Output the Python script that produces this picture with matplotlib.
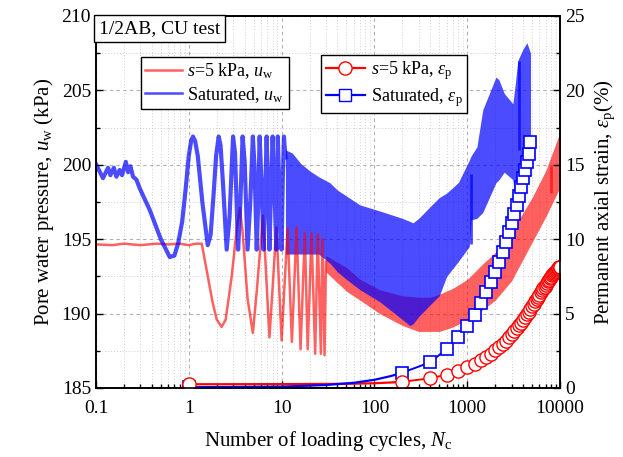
import matplotlib
matplotlib.use('Agg')
import matplotlib.pyplot as plt
from matplotlib.ticker import LogLocator, MultipleLocator, NullFormatter, FixedLocator, FixedFormatter
from matplotlib.lines import Line2D

plt.rcParams['font.family'] = ['Liberation Serif', 'DejaVu Serif']
plt.rcParams['mathtext.fontset'] = 'custom'
plt.rcParams['mathtext.rm'] = 'Liberation Serif'
plt.rcParams['mathtext.it'] = 'Liberation Serif:italic'

# ---- pore water pressure, unsaturated (s=5 kPa), discrete cycles
n_red = [0.1, 0.15, 0.2, 0.3, 0.45, 0.6, 0.8, 1.0, 1.2, 1.38, 1.55, 1.8, 2.0, 2.26, 2.5,
         2.9, 3.3, 3.55, 3.8, 4.3, 4.9, 5.4, 6.3, 7.4, 8.8, 10, 11.6, 12.9, 14.5, 16,
         17.8, 19.1, 21, 23, 24.5, 26.5, 27.5, 29, 30]
u_red = [194.65, 194.6, 194.7, 194.6, 194.7, 194.65, 194.7, 194.6, 194.7, 194.7, 193.0, 190.8,
         189.6, 189.1, 189.6, 192.5, 195.8, 197.1, 195.5, 191.0, 188.7, 191.5, 196.6, 188.4,
         195.8, 188.2, 195.7, 188.1, 195.8, 187.6, 195.4, 187.6, 195.4, 187.3, 195.3, 187.3,
         195.0, 187.2, 193.5]
# band (dense cycles) envelope
n_red_band = [30, 50, 70, 114, 200, 300, 400, 500, 700, 1000, 1500, 2000, 3000, 5000, 7000, 10000]
u_red_hi = [193.9, 193.1, 192.3, 191.6, 191.2, 191.1, 191.1, 191.3, 191.7, 192.3, 193.4, 194.1,
            195.5, 197.8, 199.6, 202.2]
u_red_lo = [192.8, 191.5, 190.9, 190.0, 189.2, 188.8, 188.8, 188.8, 189.1, 189.6, 190.3, 190.9,
            192.2, 194.8, 196.5, 198.5]

# ---- pore water pressure, saturated, discrete cycles
n_blue = [0.101, 0.119, 0.135, 0.143, 0.156, 0.166, 0.18, 0.191, 0.21, 0.222, 0.235, 0.251,
          0.273, 0.297, 0.38, 0.5, 0.624, 0.7, 0.767, 0.85, 0.93, 1.0, 1.06, 1.11, 1.17, 1.25,
          1.4, 1.6, 1.72, 1.85, 1.97, 2.1, 2.2, 2.35, 2.56, 2.75, 3.0, 3.15, 3.4, 3.6, 3.8,
          4.0, 4.3, 4.6, 4.9, 5.1, 5.4, 5.6, 5.8, 6.1, 6.4, 6.65, 6.9, 7.1, 7.4, 7.7, 8.0,
          8.4, 8.8, 9.0, 9.1, 9.5, 10, 10.3, 10.6, 11]
u_blue = [200.0, 199.1, 199.8, 199.3, 199.8, 199.2, 199.65, 199.3, 200.2, 199.5, 199.9, 199.2,
          199.0, 198.4, 196.96, 195.0, 193.8, 193.9, 194.7, 196.2, 198.5, 200.6, 201.6, 201.9,
          201.6, 200.6, 197.5, 194.6, 195.3, 198.0, 200.6, 201.9, 201.3, 198.5, 194.3, 196.5,
          201.9, 200.8, 194.3, 197.5, 201.9, 200.2, 194.3, 197.5, 201.9, 200.0, 194.3, 197.5,
          201.9, 198.5, 194.3, 198.0, 201.9, 199.0, 194.3, 198.5, 201.9, 198.0, 194.3, 199.0,
          201.9, 198.0, 194.3, 199.0, 201.9, 200.5]
n_blue_band = [11, 13, 16, 20, 25, 33, 40, 50, 70, 114, 200, 240, 260, 300, 400, 500, 600, 800,
               1050, 1100, 1270, 1470, 2040, 2200, 2500, 3100, 3300, 3500, 4000, 4400, 4800]
u_blue_hi = [201.0, 200.8, 200.1, 199.6, 199.2, 198.8, 198.3, 197.9, 197.3, 196.9, 196.4, 196.2,
             196.1, 196.4, 197.2, 197.8, 198.1, 198.8, 200.3, 200.6, 201.2, 203.7, 205.9, 205.7,
             204.8, 204.1, 205.5, 207.0, 207.8, 208.2, 207.5]
u_blue_lo = [194.0, 194.0, 194.0, 194.0, 194.0, 193.4, 192.8, 192.3, 191.6, 190.8, 189.6, 189.2,
             189.3, 189.8, 190.6, 191.2, 192.5, 193.5, 194.5, 196.3, 196.4, 196.8, 198.8, 199.0,
             199.5, 199.0, 197.5, 199.0, 200.5, 201.0, 201.5]
# darker streaks inside the bands
streak_blue_n = [1100, 3600]
streak_blue_lo = [194.7, 201.0]
streak_blue_hi = [199.4, 207.0]
streak_red_n = [2600, 8000]
streak_red_lo = [193.8, 198.1]
streak_red_hi = [195.8, 199.9]

# ---- permanent axial strain
n_eps_red = [1, 200, 400, 600, 800, 1000, 1200, 1400, 1600, 1800, 2000, 2200, 2400, 2600, 2800,
             3000, 3200, 3400, 3600, 3800, 4000, 4200, 4400, 4600, 4800, 5000, 5200, 5400, 5600,
             5800, 6000, 6200, 6400, 6600, 6800, 7000, 7200, 7400, 7600, 7800, 8000, 8200, 8400,
             8600, 8800, 9000, 9200, 9400, 9600, 9800, 10000]
eps_red = [0.25, 0.42, 0.65, 0.9, 1.15, 1.4, 1.62, 1.85, 2.07, 2.3, 2.52, 2.74, 2.96, 3.18, 3.4,
           3.6, 3.8, 4.0, 4.2, 4.4, 4.6, 4.78, 4.96, 5.14, 5.32, 5.5, 5.66, 5.82, 5.98, 6.13, 6.28,
           6.42, 6.56, 6.69, 6.82, 6.95, 7.07, 7.18, 7.29, 7.39, 7.49, 7.58, 7.66, 7.74, 7.82, 7.89,
           7.95, 8.01, 8.06, 8.11, 8.15]
n_eps_blue = [1, 200, 400, 600, 800, 1000, 1200, 1400, 1600, 1800, 2000, 2200, 2400, 2600, 2800,
              3000, 3200, 3400, 3600, 3800, 4000, 4200, 4400, 4600, 4800]
eps_blue = [0.05, 1.03, 1.73, 2.62, 3.45, 4.17, 4.9, 5.69, 6.43, 7.15, 7.82, 8.5, 9.15, 9.8, 10.45,
            11.1, 11.7, 12.3, 12.9, 13.5, 14.1, 14.65, 15.2, 15.75, 16.55]
# line between first two markers
n_line_red = [1, 10, 50, 100, 150, 200]
e_line_red = [0.25, 0.26, 0.28, 0.32, 0.37, 0.42]
n_line_blue = [1, 10, 30, 60, 100, 150, 200]
e_line_blue = [0.05, 0.09, 0.2, 0.35, 0.55, 0.8, 1.03]

RED = (1.0, 0.0, 0.0, 0.62)
BLUE = (0.0, 0.0, 1.0, 0.7)

fig = plt.figure(figsize=(6.23, 4.57), dpi=100)
ax = fig.add_axes([0.154, 0.151, 0.745, 0.814])

ax.plot(n_red, u_red, color=RED, lw=1.8)
ax.fill_between(n_red_band, u_red_lo, u_red_hi, color=RED, lw=0)
ax.vlines(streak_red_n, streak_red_lo, streak_red_hi, color=RED, lw=2)
ax.plot(n_blue, u_blue, color=BLUE, lw=3.0)
ax.fill_between(n_blue_band, u_blue_lo, u_blue_hi, color=BLUE, lw=0)
ax.vlines(streak_blue_n, streak_blue_lo, streak_blue_hi, color=BLUE, lw=2)

ax.set_xscale('log')
ax.set_xlim(0.1, 10000)
ax.set_ylim(185, 210)
ax.yaxis.set_major_locator(MultipleLocator(5))
ax.yaxis.set_minor_locator(MultipleLocator(2.5))
ax.xaxis.set_major_locator(FixedLocator([0.1, 1, 10, 100, 1000, 10000]))
ax.xaxis.set_major_formatter(FixedFormatter(['0.1', '1', '10', '100', '1000', '10000']))
ax.xaxis.set_minor_locator(LogLocator(base=10, subs=range(2, 10), numticks=20))
ax.xaxis.set_minor_formatter(NullFormatter())
ax.grid(True, which='major', ls=(0, (3, 3)), color='#b0b0b0', lw=0.8)
ax.grid(True, which='minor', ls=(0, (1, 2)), color='#d0d0d0', lw=0.7)
ax.set_axisbelow(True)
ax.tick_params(which='both', direction='in', labelsize=14, width=1)
ax.tick_params(which='major', length=5)
ax.tick_params(which='minor', length=3)
ax.tick_params(axis='x', which='both', pad=9)
ax.set_xlabel(r'Number of loading cycles, $N_{\rm c}$', fontsize=15, labelpad=8)
ax.set_ylabel(r'Pore water pressure, $u_{\rm w}$ (kPa)', fontsize=15)

ax2 = ax.twinx()
l1, = ax2.plot(n_line_red, e_line_red, color='red', lw=1.6)
l2, = ax2.plot(n_line_blue, e_line_blue, color='blue', lw=1.6)
ax2.plot(n_eps_red[1:], eps_red[1:], color='red', lw=1.4)
ax2.plot(n_eps_blue[1:], eps_blue[1:], color='blue', lw=1.4)
ax2.plot(n_eps_blue, eps_blue, ls='none', marker='s', ms=8.5, mfc='white', mec='blue', mew=1.2)
ax2.plot(n_eps_red, eps_red, ls='none', marker='o', ms=9.5, mfc='white', mec='red', mew=1.0)
ax2.set_ylim(0, 25)
ax2.yaxis.set_major_locator(MultipleLocator(5))
ax2.yaxis.set_minor_locator(MultipleLocator(2.5))
ax2.tick_params(which='both', direction='in', labelsize=14, width=1)
ax2.tick_params(which='major', length=5)
ax2.tick_params(which='minor', length=3)
ax2.set_ylabel(r'Permanent axial strain, $\varepsilon_{\rm p}$(%)', fontsize=15, labelpad=6)

for a in (ax, ax2):
    for s in a.spines.values():
        s.set_linewidth(1.2)

h1 = [Line2D([], [], color=RED, lw=1.8), Line2D([], [], color=BLUE, lw=1.8)]
leg1 = ax2.legend(h1, [r'$s$=5 kPa, $u_{\rm w}$', r'Saturated, $u_{\rm w}$'],
                  loc='upper left', bbox_to_anchor=(0.097, 0.89), fontsize=13,
                  fancybox=False, edgecolor='black', framealpha=1, handlelength=2.0,
                  borderpad=0.25, labelspacing=0.2, handletextpad=0.3, borderaxespad=0)
leg1.get_frame().set_linewidth(1.0)
ax2.add_artist(leg1)
h2 = [Line2D([], [], color='red', lw=1.6, marker='o', ms=9.5, mfc='white', mec='red'),
      Line2D([], [], color='blue', lw=1.6, marker='s', ms=8.5, mfc='white', mec='blue')]
leg2 = ax2.legend(h2, [r'$s$=5 kPa, $\varepsilon_{\rm p}$', r'Saturated, $\varepsilon_{\rm p}$'],
                  loc='upper left', bbox_to_anchor=(0.485, 0.895), fontsize=13,
                  fancybox=False, edgecolor='black', framealpha=1, handlelength=2.2,
                  borderpad=0.25, labelspacing=0.2, handletextpad=0.3, borderaxespad=0)
leg2.get_frame().set_linewidth(1.0)

ax2.text(0.006, 0.99, '1/2AB, CU test', transform=ax2.transAxes, fontsize=14, va='top', ha='left',
         bbox=dict(boxstyle='square,pad=0.25', fc='white', ec='black', lw=1.0))

fig.savefig('out.png', dpi=100)
